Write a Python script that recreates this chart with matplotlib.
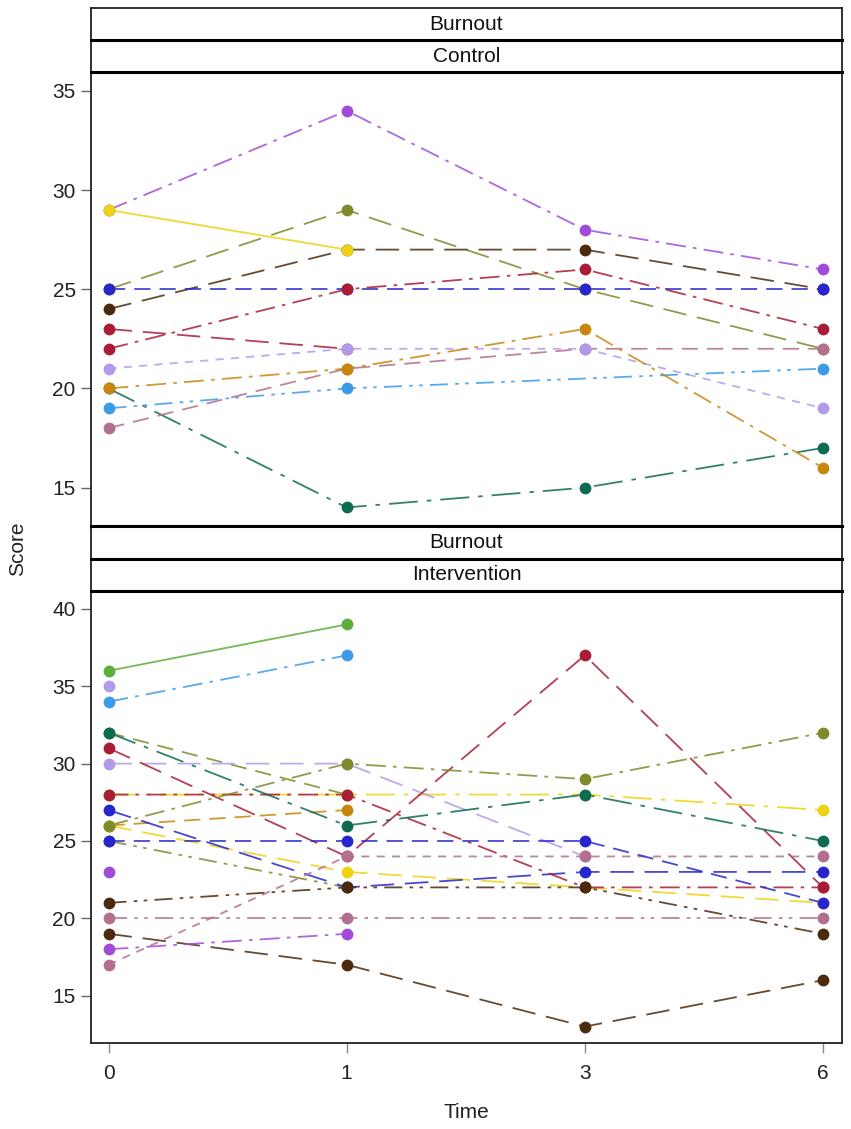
import numpy as np
import matplotlib
matplotlib.use("Agg")
import matplotlib.pyplot as plt
from matplotlib.lines import Line2D

plt.rcParams['font.family'] = ['Liberation Sans', 'DejaVu Sans']

# ---- data ----
time_labels = ["0", "1", "3", "6"]
nan = np.nan

# Control group, one list per subject: scores at time 0, 1, 3, 6
ctrl_purple = [29, 34, 28, 26]
ctrl_olive = [25, 29, 25, 22]
ctrl_teal = [20, 14, 15, 17]
ctrl_brown = [24, 27, 27, 25]
ctrl_red_a = [23, 22, nan, nan]
ctrl_mauve = [18, 21, 22, 22]
ctrl_lavender = [21, 22, 22, 19]
ctrl_sky = [19, 20, nan, 21]
ctrl_orange = [20, 21, 23, 16]
ctrl_yellow = [29, 27, nan, nan]
ctrl_blue = [25, 25, 25, 25]
ctrl_red_b = [22, 25, 26, 23]

# Intervention group
intv_olive_a = [32, 28, nan, nan]
intv_yellow_a = [28, 28, 28, 27]
intv_orange = [26, 27, nan, nan]
intv_yellow_b = [26, 23, 22, 21]
intv_olive_b = [25, 22, nan, nan]
intv_lavender_a = [30, 30, 24, nan]
intv_red_a = [31, 24, 37, 22]
intv_blue_a = [27, 22, 23, 23]
intv_red_b = [28, 28, 22, 22]
intv_teal = [32, 26, 28, 25]
intv_olive_c = [26, 30, 29, 32]
intv_mauve_a = [17, 24, 24, 24]
intv_brown_a = [21, 22, 22, 19]
intv_blue_b = [25, 25, 25, 21]
intv_mauve_b = [20, 20, nan, 20]
intv_brown_b = [19, 17, 13, 16]
intv_purple_a = [18, 19, nan, nan]
intv_purple_b = [23, nan, nan, nan]
intv_lavender_b = [35, nan, nan, nan]
intv_sky = [34, 37, nan, nan]
intv_green = [36, 39, nan, nan]

# ---- styles ----
PURPLE = "#a24bd8"
YELLOW = "#eed214"
OLIVE = "#7f8a2b"
BLUE = "#2626cc"
BROWN = "#4b2a0e"
RED = "#a91d37"
LAVENDER = "#b39ae8"
ORANGE = "#c8860e"
SKY = "#3c9be8"
MAUVE = "#b36f8e"
TEAL = "#0d6b52"
GREEN = "#5dad3a"

SOLID = (0, ())
LONGDASH = (0, (13, 6))
DASH = (0, (9, 5))
SHORTDASH = (0, (4.5, 4))
DASHDOT = (0, (11, 4, 2, 4))
DASHDOTDOT = (0, (10, 4, 2, 3.5, 2, 4))
LONGDASHDOT = (0, (16, 5, 2.5, 5))

control = [
    (ctrl_purple, PURPLE, DASHDOT),
    (ctrl_olive, OLIVE, LONGDASH),
    (ctrl_teal, TEAL, LONGDASHDOT),
    (ctrl_brown, BROWN, LONGDASH),
    (ctrl_red_a, RED, LONGDASH),
    (ctrl_mauve, MAUVE, DASH),
    (ctrl_lavender, LAVENDER, SHORTDASH),
    (ctrl_sky, SKY, DASHDOTDOT),
    (ctrl_orange, ORANGE, DASHDOT),
    (ctrl_yellow, YELLOW, SOLID),
    (ctrl_blue, BLUE, DASH),
    (ctrl_red_b, RED, DASHDOT),
]

intervention = [
    (intv_olive_a, OLIVE, DASH),
    (intv_yellow_a, YELLOW, LONGDASHDOT),
    (intv_orange, ORANGE, DASH),
    (intv_yellow_b, YELLOW, LONGDASH),
    (intv_olive_b, OLIVE, DASHDOTDOT),
    (intv_lavender_a, LAVENDER, LONGDASH),
    (intv_red_a, RED, LONGDASH),
    (intv_blue_a, BLUE, LONGDASH),
    (intv_red_b, RED, DASHDOT),
    (intv_teal, TEAL, LONGDASHDOT),
    (intv_olive_c, OLIVE, DASHDOT),
    (intv_mauve_a, MAUVE, SHORTDASH),
    (intv_brown_a, BROWN, DASHDOTDOT),
    (intv_blue_b, BLUE, DASH),
    (intv_mauve_b, MAUVE, DASHDOTDOT),
    (intv_brown_b, BROWN, LONGDASH),
    (intv_purple_a, PURPLE, DASHDOT),
    (intv_purple_b, PURPLE, SOLID),
    (intv_lavender_b, LAVENDER, SOLID),
    (intv_sky, SKY, DASHDOT),
    (intv_green, GREEN, SOLID),
]

W, H = 851, 1129
FS = 15


def fx(px):
    return px / W


def fy(py):
    return 1 - py / H


fig = plt.figure(figsize=(W / 100, H / 100), dpi=100)

LEFT, RIGHT = 91, 842


def draw_panel(top, bottom, series, ylim, yticks, show_x):
    ax = fig.add_axes([fx(LEFT), fy(bottom), fx(RIGHT - LEFT), (bottom - top) / H])
    x = np.arange(len(time_labels))
    # lines first, then markers so points sit on top
    for vals, col, ls in series:
        y = np.array(vals, dtype=float)
        m = ~np.isnan(y)
        ax.plot(x[m], y[m], color=col, linestyle=ls, lw=1.3, alpha=0.85, zorder=2)
    for vals, col, ls in series:
        y = np.array(vals, dtype=float)
        m = ~np.isnan(y)
        ax.plot(x[m], y[m], 'o', color=col, ms=8.5, mew=0, zorder=3)
    ax.set_xlim(-0.0735, 3.08)
    ax.set_ylim(*ylim)
    ax.set_yticks(yticks)
    ax.set_xticks(x)
    ax.tick_params(axis='y', direction='out', length=7, width=1, color='#666666',
                   labelsize=FS, labelcolor='#222222', pad=4)
    if show_x:
        ax.set_xticklabels(time_labels)
        ax.tick_params(axis='x', direction='out', length=7, width=1, color='#888888',
                       labelsize=FS, labelcolor='#222222', pad=8)
    else:
        ax.tick_params(axis='x', length=0, labelbottom=False)
    for s in ax.spines.values():
        s.set_linewidth(1.3)
        s.set_color('#222222')
    ax.spines['top'].set_visible(False)
    return ax


def draw_strip(top, bottom, label):
    sa = fig.add_axes([fx(LEFT), fy(bottom), fx(RIGHT - LEFT), (bottom - top) / H])
    sa.set_xticks([])
    sa.set_yticks([])
    for s in sa.spines.values():
        s.set_linewidth(1.3)
        s.set_color('#222222')
    sa.text(0.5, 0.5, label, ha='center', va='center', fontsize=FS, color='#111111',
            transform=sa.transAxes)


draw_panel(72.3, 525.7, control, (13.08, 35.94), [15, 20, 25, 30, 35], False)
draw_panel(591, 1042.7, intervention, (11.96, 41.16), [15, 20, 25, 30, 35, 40], True)

draw_strip(8.3, 40, "Burnout")
draw_strip(40, 72.3, "Control")
draw_strip(525.7, 558.7, "Burnout")
draw_strip(558.7, 591, "Intervention")

# heavier separators between strips and panels
for py in [40, 72.3, 525.7, 558.7, 591]:
    fig.add_artist(Line2D([fx(LEFT), fx(RIGHT)], [fy(py), fy(py)], color='black', lw=2.2))

fig.text(fx(18), fy(549), "Score", rotation=90, ha='center', va='center', fontsize=FS, color='#222222')
fig.text(fx(466), fy(1112), "Time", ha='center', va='center', fontsize=FS, color='#222222')

fig.savefig("out.png", dpi=100)
